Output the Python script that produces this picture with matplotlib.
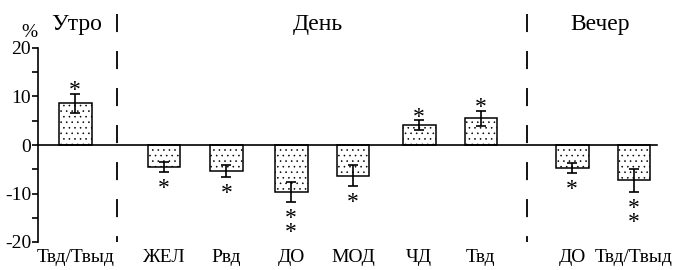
import matplotlib.pyplot as plt
import numpy as np
from matplotlib.ticker import MultipleLocator

plt.rcParams['font.family'] = ['Liberation Serif', 'DejaVu Serif']
plt.rcParams['hatch.linewidth'] = 0.4
plt.rcParams['hatch.color'] = '#808080'

# data
labels = ['Твд/Твыд', 'ЖЕЛ', 'Рвд', 'ДО', 'МОД', 'ЧД', 'Твд', 'ДО', 'Твд/Твыд']
values = [8.6, -4.6, -5.3, -9.7, -6.3, 4.1, 5.5, -4.8, -7.3]
errors = [2.0, 1.0, 1.2, 2.0, 2.2, 1.0, 1.6, 1.0, 2.4]
stars = [1, 1, 1, 2, 1, 1, 1, 1, 2]
groups = ['Утро', 'День', 'Вечер']

# layout
pos = np.array([0, 1.41, 2.4, 3.43, 4.41, 5.46, 6.44, 7.89, 8.87])
group_x = [0.03, 3.85, 8.33]
sep_x = [0.67, 7.17]

fig = plt.figure(figsize=(6.92, 2.70), dpi=100)
ax = fig.add_axes([38 / 692, 28 / 270, 654 / 692, 194 / 270])
ax.set_xlim(-0.59, -0.59 + 654 / 63)
ax.set_ylim(-20, 20)

ax.bar(pos, values, width=0.52, color='white', edgecolor='black',
       linewidth=1.1, hatch='...', zorder=2)
ax.errorbar(pos, values, yerr=errors, fmt='none', ecolor='black',
            elinewidth=1.2, capsize=3.5, capthick=1.2, zorder=3)

ax.plot([-0.59, 9.24], [0, 0], color='black', lw=1.2, zorder=4, clip_on=False)

# significance marks, stacked asterisks as one text
for x, v, e, n in zip(pos, values, errors, stars):
    sign = 1 if v > 0 else -1
    end = v + sign * e
    ax.annotate('\n'.join(['*'] * n), xy=(x, end),
                xytext=(0, sign * (7 + 5 * (n - 1)) - 5),
                textcoords='offset points', ha='center', va='center',
                fontsize=17, linespacing=0.59, zorder=5)

for sx in sep_x:
    ax.plot([sx, sx], [27.1, -20], color='black', lw=1.3, ls=(0, (10, 10.5)),
            clip_on=False)

for gx, g in zip(group_x, groups):
    ax.text(gx, 24.8, g, ha='center', va='center', fontsize=17)
ax.text(-0.73, 23.2, '%', ha='center', va='center', fontsize=14)

for spine in ['top', 'right', 'bottom']:
    ax.spines[spine].set_visible(False)
ax.spines['left'].set_linewidth(1.2)
ax.yaxis.set_major_locator(MultipleLocator(10))
ax.yaxis.set_minor_locator(MultipleLocator(5))
ax.tick_params(axis='y', which='both', direction='out', width=1.2, length=4,
               labelsize=14, pad=1)
ax.set_yticks([-20, -10, 0, 10, 20])
ax.set_yticklabels(['-20', '-10', '0', '10', '20'])
ax.set_xticks(pos)
ax.set_xticklabels(labels, fontsize=14)
ax.tick_params(axis='x', length=0, pad=5)

fig.savefig('out.png', dpi=100)
